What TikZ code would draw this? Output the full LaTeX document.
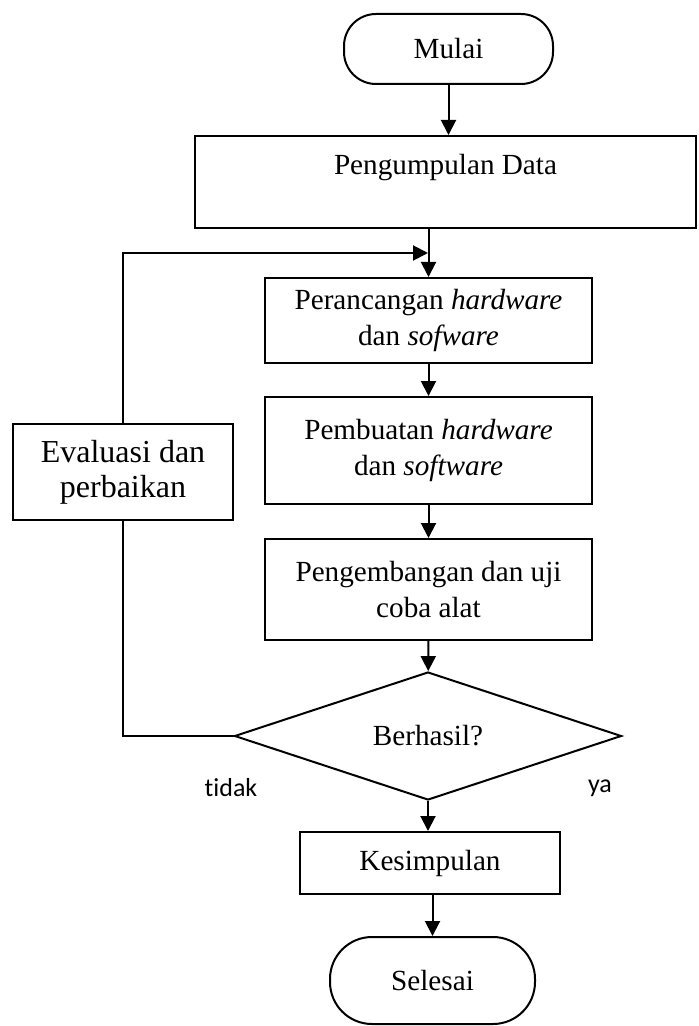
\documentclass[tikz,border=0pt]{standalone}
\usepackage{fontspec}
\setmainfont{Liberation Serif}
\newfontfamily\labelfont[Ligatures=NoCommon]{Carlito}
\usepackage{tikz}
\usetikzlibrary{arrows.meta,positioning,calc,shapes.geometric}

\begin{document}
\begin{tikzpicture}[x=0.5pt,y=-0.5pt,line width=1pt,
  every node/.style={font=\fontsize{14.6}{18}\selectfont,align=center,inner sep=2pt},
  terminal/.style={draw,rectangle,rounded corners=16pt},
  process/.style={draw,rectangle},
  decision/.style={draw,diamond,shape aspect=3,inner sep=0pt},
  flow/.style={-{Triangle[width=7.5pt,length=7.5pt]}},
  answer/.style={font=\labelfont\fontsize{13}{15}\selectfont}]
  \useasboundingbox (0,0) rectangle (699,1026);
  % main column
  \node[terminal,minimum width=104.5pt,minimum height=35pt] (mulai) at (448.5,49) {Mulai};
  \node[process,minimum width=250.5pt,minimum height=46pt] (data) at (445.5,182) {Pengumpulan Data\\ \mbox{}};
  \node[process,minimum width=163.5pt,minimum height=42.5pt] (rancang) at (428.5,320.5) {Perancangan \textit{hardware}\\ dan \textit{sofware}};
  \node[process,minimum width=163.5pt,minimum height=53.5pt] (buat) at (428.5,450.5) {Pembuatan \textit{hardware}\\ dan \textit{software}};
  \node[process,minimum width=163.5pt,minimum height=50.5pt] (kembang) at (428.5,589.5) {Pengembangan dan uji\\ coba alat};
  \node[decision,minimum width=193.5pt,minimum height=64pt] (cek) at (428,736) {Berhasil?};
  \node[process,minimum width=130pt,minimum height=31pt] (simpul) at (430,863) {Kesimpulan};
  \node[terminal,rounded corners=21pt,minimum width=102.5pt,minimum height=43.5pt] (selesai) at (432.5,980.5) {Selesai};
  % loop back
  \node[process,minimum width=110pt,minimum height=48pt,font=\fontsize{16}{17.5}\selectfont] (eval) at (123,472) {Evaluasi dan\\ perbaikan};
  \coordinate (join) at (428,253);
  \node[answer] (tidak) at (231,788) {tidak};
  \node[answer] (ya) at (600,788) {ya};
  % connectors
  \draw[flow] (mulai.south) -- (mulai.south |- data.north);
  \draw[flow] (rancang.north |- data.south) -- (rancang.north);
  \draw[flow] (eval.north) -- (eval.north |- join) -- (join);
  \draw[flow] (rancang) -- (buat);
  \draw[flow] (buat) -- (kembang);
  \draw[flow] (kembang) -- (cek);
  \draw[flow] (cek) -- (simpul.north -| cek.south);
  \draw[flow] (selesai.north |- simpul.south) -- (selesai.north);
  \draw (eval.south) -- (eval.south |- cek.west) -- (cek.west);
\end{tikzpicture}
\end{document}
